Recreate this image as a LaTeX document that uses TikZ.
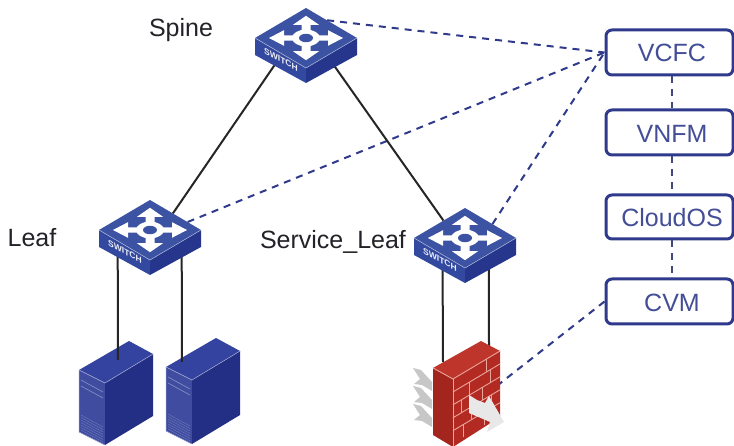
\documentclass[tikz,border=0pt]{standalone}
\usepackage{fontspec}
\setmainfont{Liberation Sans}
\usetikzlibrary{shapes.geometric}
\definecolor{navy}{HTML}{2F3A8C}
\definecolor{swtop}{HTML}{3C52A3}
\definecolor{swleft}{HTML}{3349A0}
\definecolor{swright}{HTML}{26368C}
\definecolor{srvleft}{HTML}{3F4CA0}
\definecolor{srvright}{HTML}{222F85}
\definecolor{srvtop}{HTML}{3442A0}
\definecolor{fwface}{HTML}{B32A22}
\definecolor{fwleft}{HTML}{A3261E}
\definecolor{fwtop}{HTML}{BE352B}
\definecolor{fwline}{HTML}{E8A59C}
\definecolor{labelink}{HTML}{222228}
\tikzset{
  x=1pt,y=-1pt,
  anchorpt/.style={diamond,aspect=1.7,minimum width=102pt,minimum height=60pt,inner sep=0pt,draw=none},
  link/.style={line width=2pt,draw=black!85},
  ctrl/.style={line width=2pt,draw=navy,dash pattern=on 7pt off 6pt},
  stack/.style={line width=2pt,draw=navy!70!black!85,dash pattern=on 7pt off 6pt},
  mgmt/.style={draw=navy,line width=3pt,rounded corners=6pt,fill=white,minimum width=127pt,inner sep=0pt},
  mgmttext/.style={text=navy!90,font=\fontsize{25}{28}\selectfont,inner sep=0pt},
  tier/.style={text=labelink,font=\fontsize{25}{28}\selectfont,inner sep=0pt},
  switchpic/.pic={
    \fill[swleft] (-51,0) -- (0,30) -- (0,45) -- (-51,17) -- cycle;
    \fill[swright] (51,0) -- (0,30) -- (0,45) -- (51,17) -- cycle;
    \fill[swtop] (-51,0) -- (0,-30) -- (51,0) -- (0,30) -- cycle;
    \draw[white!60!swtop,line width=0.5pt] (-51,0) -- (0,30) -- (51,0);
    \begin{scope}[yscale=0.6]
      \foreach \a in {0,90,180,270}{
        \fill[white,rotate=\a] (10,-4.5) -- (22,-4.5) -- (22,-13) -- (37,0) -- (22,13) -- (22,4.5) -- (10,4.5) -- cycle;
      }
      \fill[white] (0,0) circle (14);
      \fill[swtop] (0,0) circle (7);
    \end{scope}
    \begin{scope}[shift={(-25,21.5)},cm={1,-0.55,0,1,(0,0)}]
      \node[transform shape,text=white!90!swtop,inner sep=0pt,font=\bfseries\fontsize{8.5}{9}\selectfont] (label) at (0,0) {SWITCH};
    \end{scope}
  },
  serverpic/.pic={
    \fill[srvleft] (0,0) -- (26,13) -- (26,13+#1) -- (0,#1) -- cycle;
    \fill[srvright] (26,13) -- (74,-16) -- (74,-16+#1) -- (26,13+#1) -- cycle;
    \fill[srvtop] (0,0) -- (50,-29) -- (74,-16) -- (26,13) -- cycle;
    \draw[white!55!srvleft,line width=0.5pt] (0,0) -- (26,13) -- (74,-16);
    \draw[white!35!srvleft,line width=0.7pt] (2,10) -- (24,22);
    \draw[white!35!srvleft,line width=0.7pt] (2,16) -- (24,28);
    \foreach \d in {0,2.5,...,15}{
      \draw[white!25!srvleft,line width=0.4pt] (2,#1-17+\d) -- (24,#1-5+\d);
    }
    \draw[white!40!srvleft,line width=0.5pt] (0,0) -- (0,#1) -- (26,13+#1);
  },
  chevron/.pic={
    \fill[black!22] (0,0) -- (8,2) -- (19,14) -- (19,23) -- (9,17) -- (1,16) -- (7,11) -- cycle;
  }
}
\begin{document}
\begin{tikzpicture}
\useasboundingbox (0,0) rectangle (734,446);
\clip (0,0) rectangle (734,446);
\fill[white] (0,0) rectangle (734,446);

% anchors
\node[anchorpt] (spine) at (306,38) {};
\node[anchorpt] (leaf) at (150,230) {};
\node[anchorpt] (sleaf) at (465,238) {};
\coordinate (srva) at (118,360);
\coordinate (srvb) at (182,362);
\coordinate (fwa) at (443,362);
\coordinate (fwb) at (489,346);
\coordinate (fwc) at (498,385);

% management boxes
\node[mgmt,minimum height=45pt] (vcfc) at (669.5,52.5) {};
\node[mgmt,minimum height=45pt] (vnfm) at (669.5,132.5) {};
\node[mgmt,minimum height=44pt] (cloudos) at (669.5,217) {};
\node[mgmt,minimum height=45pt] (cvm) at (669.5,301.5) {};
\node[mgmttext] (vcfct) at (672,53) {VCFC};
\node[mgmttext] (vnfmt) at (672,134) {VNFM};
\node[mgmttext] (cloudt) at (672,218) {CloudOS};
\node[mgmttext] (cvmt) at (672,303) {CVM};

% servers
\pic at (79,370) {serverpic=62};
\pic at (166,367) {serverpic=64};

% connectors
\draw[stack] (vcfc.south -| vcfct) -- (vnfm.north -| vnfmt);
\draw[stack] (vnfm.south -| vnfmt) -- (cloudos.north -| cloudt);
\draw[stack] (cloudos.south -| cloudt) -- (cvm.north -| cvmt);
\draw[ctrl] (spine.40) -- (vcfc.west);
\draw[ctrl] (leaf.12) -- (vcfc.west);
\draw[ctrl] (sleaf.27) -- (vcfc.west);
\draw[ctrl] (cvm.west) -- (fwc);
\draw[link] (spine.214) -- (leaf.36);
\draw[link] (spine.320) -- (sleaf.141);
\draw[link] (leaf.199.3) -- (srva);
\draw[link] (leaf.340.7) -- (srvb);
\draw[link] (sleaf.217.7) -- (fwa);
\draw[link] (sleaf.326.5) -- (fwb);

% switches
\pic (sp) at (spine) {switchpic};
\pic (lf) at (leaf) {switchpic};
\pic (sl) at (sleaf) {switchpic};

% firewall
\pic at (413,368) {chevron};
\pic at (413,386) {chevron};
\pic at (413,404) {chevron};
\fill[fwleft] (433,368) -- (453,379) -- (453,447) -- (433,435) -- cycle;
\fill[fwface] (453,379) -- (500,351) -- (500,417) -- (453,447) -- cycle;
\fill[fwtop] (433,368) -- (481,341) -- (500,351) -- (453,379) -- cycle;
\draw[fwline,line width=0.9pt] (433,368) -- (453,379) -- (500,351);
\draw[fwline,line width=0.9pt] (453,379) -- (453,447);
\begin{scope}[shift={(453,379)},x={(47pt,28pt)},y={(0pt,-68pt)}]
  \foreach \v in {0.19,0.38,0.57,0.76}{
    \draw[fwline,line width=0.9pt] (0,\v) -- (1,\v);
  }
  \foreach \u/\v in {0.72/0,0.36/0.19,0.80/0.19,0.18/0.38,0.62/0.38,0.40/0.57,0.82/0.57,0.22/0.76,0.66/0.76}{
    \draw[fwline,line width=0.9pt] (\u,\v) -- (\u,\v+0.19);
  }
\end{scope}
\fill[black!9] (469,395) -- (477,400) -- (485,403) -- (489,396) -- (504,422) -- (487,432) -- (490,422) -- (469,413) -- cycle;

% tier labels
\node[tier] (lspine) at (181,30) {Spine};
\node[tier] (lleaf) at (32,238) {Leaf};
\node[tier] (lsleaf) at (333,242) {Service\_Leaf};
\end{tikzpicture}
\end{document}
